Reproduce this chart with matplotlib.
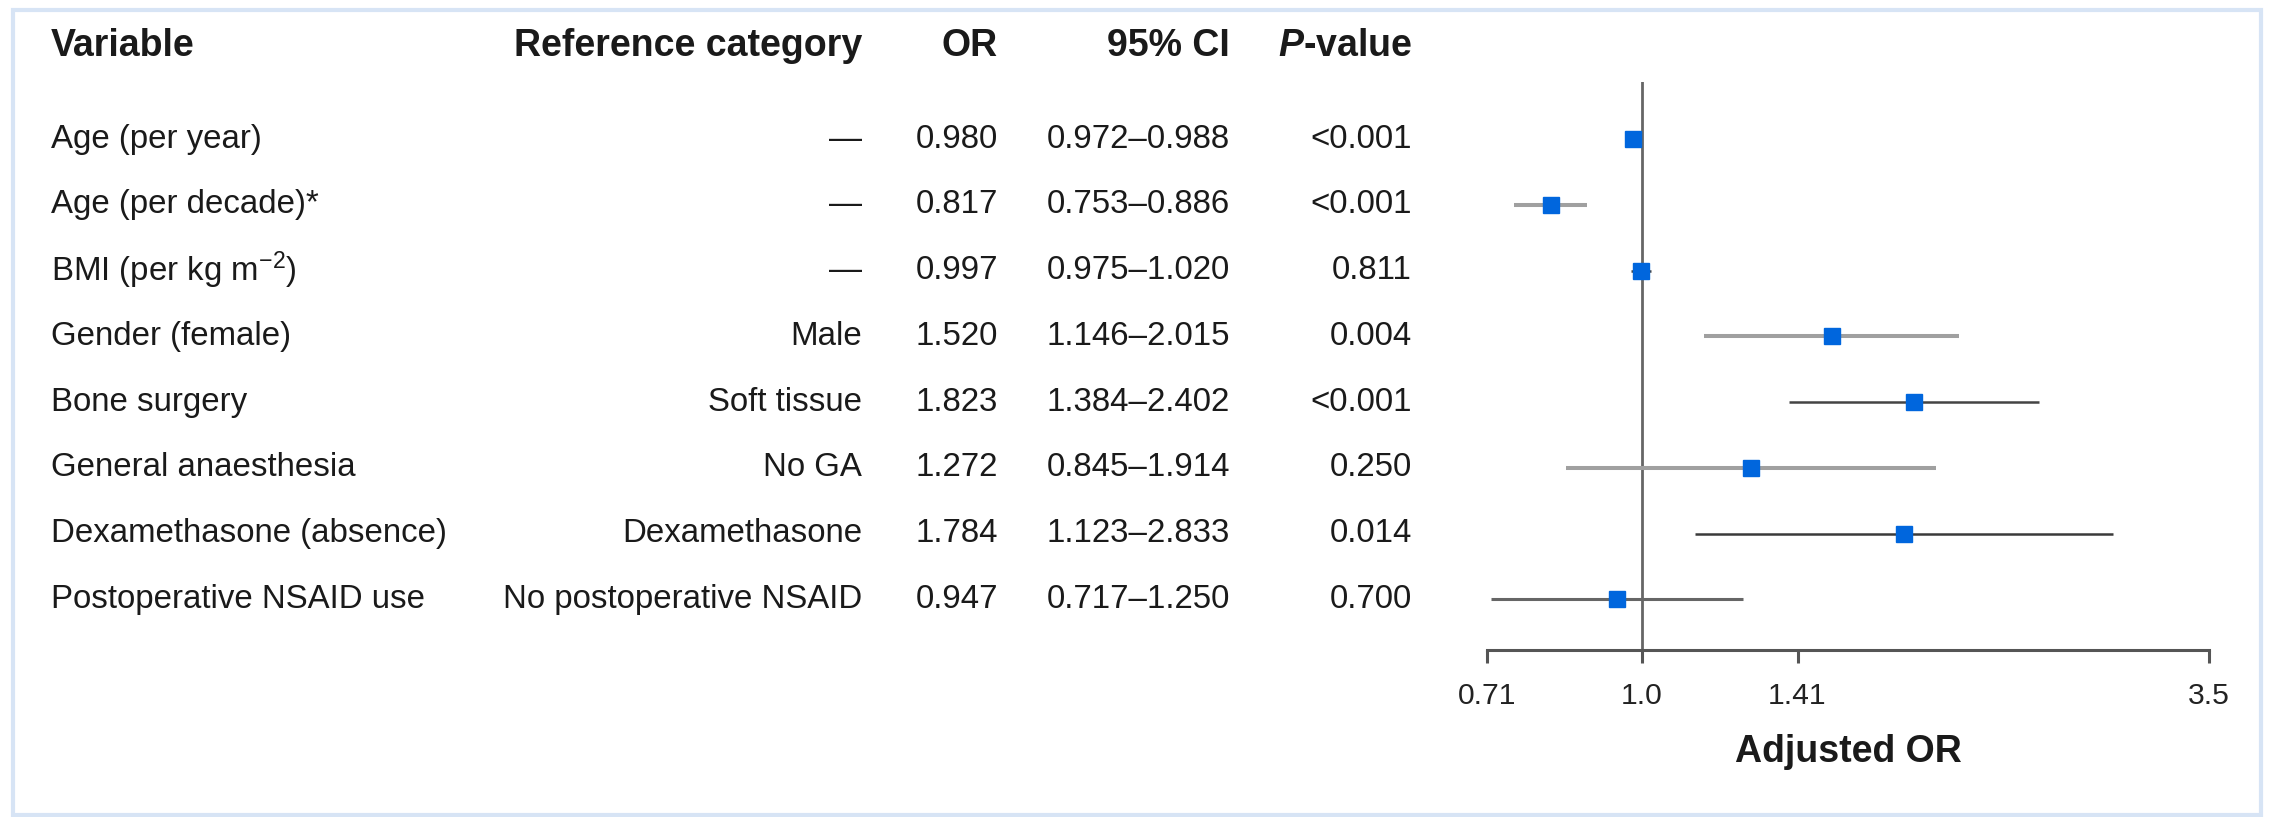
import matplotlib
matplotlib.use("Agg")
import matplotlib.pyplot as plt
from matplotlib.patches import Rectangle
from matplotlib.transforms import blended_transform_factory

# === Data ===
variables = ["Age (per year)", "Age (per decade)*", r"BMI (per kg m$^{-2}$)", "Gender (female)",
             "Bone surgery", "General anaesthesia", "Dexamethasone (absence)", "Postoperative NSAID use"]
ref_cats = ["—", "—", "—", "Male", "Soft tissue", "No GA", "Dexamethasone", "No postoperative NSAID"]
odds_ratios = [0.980, 0.817, 0.997, 1.520, 1.823, 1.272, 1.784, 0.947]
ci_low = [0.972, 0.753, 0.975, 1.146, 1.384, 0.845, 1.123, 0.717]
ci_high = [0.988, 0.886, 1.020, 2.015, 2.402, 1.914, 2.833, 1.250]
p_values = ["<0.001", "<0.001", "0.811", "0.004", "<0.001", "0.250", "0.014", "0.700"]
headers = ["Variable", "Reference category", "OR", "95% CI", r"$\mathbfit{P}$-value"]
x_ticks = [0.71, 1.0, 1.41, 3.5]
x_tick_labels = ["0.71", "1.0", "1.41", "3.5"]

# CI line shades alternate in the source rendering
ci_colors = ["#444444", "#a0a0a0", "#444444", "#a0a0a0", "#444444", "#a0a0a0", "#3a3a3a", "#666666"]
ci_widths = [1.8, 2.9, 1.8, 2.9, 1.8, 2.9, 1.8, 2.2]

plt.rcParams["font.family"] = "Liberation Sans"
plt.rcParams["mathtext.fontset"] = "custom"
plt.rcParams["mathtext.rm"] = "Liberation Sans"
plt.rcParams["mathtext.it"] = "Liberation Sans:italic"
plt.rcParams["mathtext.bf"] = "Liberation Sans:bold"
plt.rcParams["mathtext.bfit"] = "Liberation Sans:italic:bold"

W, H = 2275, 817
fig = plt.figure(figsize=(W / 100, H / 100), dpi=100)

# forest plot axes (pixel layout taken from reference)
ax = fig.add_axes([1487 / W, (H - 650) / H, (2209 - 1487) / W, (650 - 82) / H])
ax.set_xscale("log")
ax.set_xlim(0.71, 3.5)
ax.set_ylim(7.773, -0.872)

rows = list(range(len(variables)))
ax.hlines(rows, ci_low, ci_high, colors=ci_colors, linewidths=ci_widths, zorder=2)
ax.axvline(1.0, color="#666666", lw=2.0, zorder=1)
ax.plot(odds_ratios, rows, "s", ms=11.5, color="#0066dd", mec="#0066dd", zorder=3)

for side in ["left", "top", "right"]:
    ax.spines[side].set_visible(False)
ax.spines["bottom"].set_color("#555555")
ax.spines["bottom"].set_linewidth(2.2)
ax.set_yticks([])
ax.set_xticks(x_ticks)
ax.set_xticklabels(x_tick_labels)
ax.xaxis.set_minor_locator(matplotlib.ticker.NullLocator())
ax.tick_params(axis="x", length=9, width=2.2, color="#555555", pad=14, labelsize=21.7, labelcolor="#222222")
ax.set_xlabel("Adjusted OR", fontsize=27, fontweight="bold", color="#1a1a1a", va="center")
ax.xaxis.set_label_coords(0.5, -(752 - 650) / (650 - 82))

# === Table text ===
trans = blended_transform_factory(fig.transFigure, ax.transData)
col_x = [51 / W, 862 / W, 998 / W, 1230 / W, 1412 / W]
col_ha = ["left", "right", "right", "right", "right"]
header_y = (H - 46) / H
for x, ha, txt in zip(col_x, col_ha, headers):
    fig.text(x, header_y, txt, ha=ha, va="center", fontsize=27, fontweight="bold", color="#1a1a1a")

body = 23.8
for i in rows:
    cells = [variables[i], ref_cats[i], f"{odds_ratios[i]:.3f}",
             f"{ci_low[i]:.3f}–{ci_high[i]:.3f}", p_values[i]]
    for x, ha, txt in zip(col_x, col_ha, cells):
        fig.text(x, i, txt, transform=trans, ha=ha, va="center", fontsize=body, color="#1a1a1a")

# light blue frame
fig.patches.append(Rectangle((13 / W, 2 / H), (2261 - 13) / W, (815 - 10) / H, transform=fig.transFigure,
                             fill=False, edgecolor="#d7e4f5", lw=3.0))

fig.savefig("out.png", dpi=100)
